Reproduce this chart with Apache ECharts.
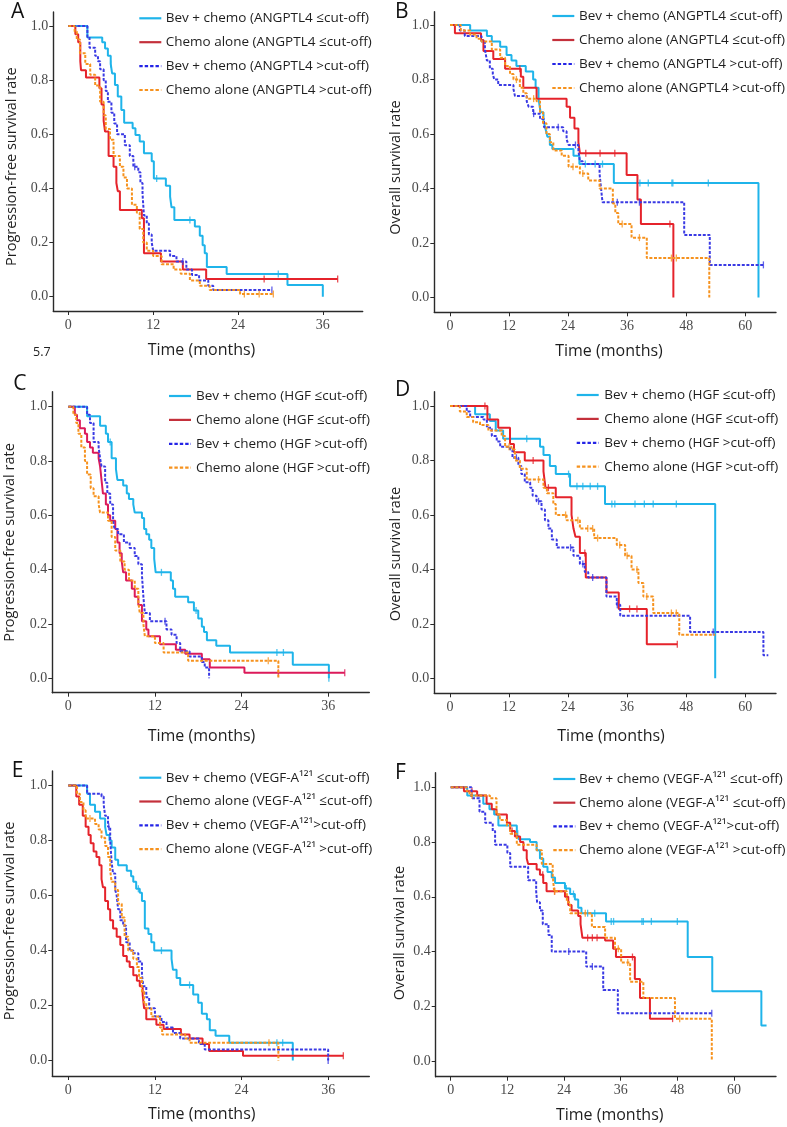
<!DOCTYPE html>
<html><head><meta charset="utf-8">
<script src="https://cdn.jsdelivr.net/npm/echarts@6/dist/echarts.min.js"></script>
<style>html,body{margin:0;padding:0;background:#fff}#c{width:787px;height:1127px}</style>
</head><body><div id="c"></div>
<script>
// ---------------- DATA (Kaplan–Meier steps: time in months, survival rate) ----------------
const ticksPFS = [0, 12, 24, 36];
const ticksOS = [0, 12, 24, 36, 48, 60];
const ticksY = [0, 0.2, 0.4, 0.6, 0.8, 1.0];

const namesANG = ['Bev + chemo (ANGPTL4 \u2264cut-off)', 'Chemo alone (ANGPTL4 \u2264cut-off)', 'Bev + chemo (ANGPTL4 >cut-off)', 'Chemo alone (ANGPTL4 >cut-off)'];
const namesHGF = ['Bev + chemo (HGF \u2264cut-off)', 'Chemo alone (HGF \u2264cut-off)', 'Bev + chemo (HGF >cut-off)', 'Chemo alone (HGF >cut-off)'];
const namesVEGF = ['Bev + chemo (VEGF-A\u00b9\u00b2\u00b9 \u2264cut-off)', 'Chemo alone (VEGF-A\u00b9\u00b2\u00b9 \u2264cut-off)', 'Bev + chemo (VEGF-A\u00b9\u00b2\u00b9>cut-off)', 'Chemo alone (VEGF-A\u00b9\u00b2\u00b9 >cut-off)'];

// Panel A: PFS, ANGPTL4
const A1_t = [0, 2.7, 4.8, 5.2, 5.6, 6.0, 6.2, 6.6, 7.0, 7.5, 7.9, 9.1, 9.5, 10.1, 10.7, 11.8, 12.1, 13.8, 14.4, 14.6, 15.0, 17.9, 18.6, 19.0, 19.3, 19.6, 22.4, 31.0, 36.0];
const A1_s = [1, 0.958, 0.94, 0.917, 0.89, 0.86, 0.825, 0.782, 0.74, 0.69, 0.643, 0.622, 0.597, 0.573, 0.53, 0.50, 0.437, 0.41, 0.37, 0.33, 0.283, 0.259, 0.225, 0.19, 0.16, 0.11, 0.084, 0.043, 0];
const A1_c = [6.0, 12.5, 17.2, 29.7];
const A2_t = [0, 1.0, 1.4, 1.7, 1.8, 2.5, 4.4, 4.7, 5.0, 5.2, 5.7, 6.4, 6.8, 7.0, 7.3, 10.4, 10.7, 13.1, 16.2, 19.5, 38.1];
const A2_s = [1, 0.97, 0.94, 0.87, 0.837, 0.81, 0.77, 0.71, 0.65, 0.61, 0.52, 0.48, 0.42, 0.39, 0.32, 0.29, 0.16, 0.13, 0.10, 0.065, 0.065];
const A2_c = [27.7, 38.1];
const A3_t = [0, 2.7, 3.0, 3.8, 4.2, 4.5, 5.0, 5.3, 5.6, 6.1, 6.5, 6.9, 8.0, 8.7, 9.2, 9.9, 10.2, 10.5, 10.7, 11.1, 11.4, 11.8, 12.0, 14.4, 15.3, 16.7, 17.5, 18.5, 19.8, 20.5, 28.8];
const A3_s = [1, 0.96, 0.92, 0.89, 0.87, 0.84, 0.80, 0.76, 0.72, 0.68, 0.64, 0.60, 0.56, 0.52, 0.48, 0.46, 0.42, 0.38, 0.30, 0.27, 0.23, 0.20, 0.17, 0.15, 0.13, 0.10, 0.08, 0.06, 0.04, 0.025, 0.025];
const A3_c = [9.4, 16.2, 28.8];
const A4_t = [0, 0.9, 1.2, 1.65, 2.4, 3.1, 3.8, 4.5, 5.0, 5.3, 5.9, 6.4, 7.3, 7.8, 8.3, 9.0, 9.7, 10.1, 10.6, 11.1, 12.0, 13.2, 14.9, 15.9, 17.2, 18.6, 20.0, 24.3, 29.0];
const A4_s = [1, 0.98, 0.95, 0.90, 0.86, 0.82, 0.78, 0.72, 0.67, 0.62, 0.58, 0.52, 0.48, 0.44, 0.40, 0.34, 0.31, 0.25, 0.20, 0.17, 0.15, 0.12, 0.10, 0.085, 0.06, 0.04, 0.025, 0.01, 0.01];
const A4_c = [24.9, 27.0, 29.0];

// Panel B: OS, ANGPTL4
const B1_t = [0, 4.1, 7.5, 8.5, 10.2, 11.5, 12.5, 13.5, 15.4, 16.9, 17.4, 18.0, 18.4, 19.0, 19.4, 19.8, 20.3, 20.8, 25.1, 26.3, 33.3, 62.7];
const B1_s = [1, 0.98, 0.96, 0.94, 0.92, 0.89, 0.87, 0.85, 0.83, 0.80, 0.77, 0.73, 0.68, 0.65, 0.62, 0.59, 0.56, 0.545, 0.52, 0.49, 0.42, 0];
const B1_c = [27.5, 29.5, 31.0, 38.6, 40.3, 45.1, 45.3, 52.5];
const B2_t = [0, 1.0, 6.3, 6.8, 8.8, 11.2, 14.4, 14.9, 17.6, 23.7, 24.4, 25.3, 26.1, 26.4, 35.9, 38.1, 38.8, 45.4];
const B2_s = [1, 0.97, 0.945, 0.905, 0.875, 0.84, 0.81, 0.77, 0.73, 0.70, 0.66, 0.62, 0.57, 0.53, 0.45, 0.36, 0.27, 0];
const B2_c = [14.2, 27.6, 30.5, 33.5, 44.7];
const B3_t = [0, 2.0, 3.0, 6.4, 7.1, 7.5, 8.1, 8.7, 9.0, 9.8, 12.9, 13.2, 15.6, 16.0, 16.9, 18.3, 19.1, 23.0, 23.7, 24.1, 26.1, 26.4, 27.0, 30.4, 30.7, 31.0, 47.6, 52.8, 63.7];
const B3_s = [1, 0.98, 0.96, 0.94, 0.91, 0.87, 0.84, 0.82, 0.80, 0.78, 0.765, 0.74, 0.72, 0.70, 0.675, 0.655, 0.625, 0.61, 0.58, 0.56, 0.54, 0.50, 0.49, 0.455, 0.40, 0.35, 0.23, 0.12, 0.12];
const B3_c = [17.0, 22.0, 25.5, 34.0, 38.5, 63.7];
const B4_t = [0, 2.2, 4.1, 5.4, 6.4, 8.5, 10.2, 11.2, 12.2, 12.9, 14.2, 14.9, 15.6, 17.6, 18.3, 18.9, 19.6, 20.3, 21.0, 22.7, 24.1, 26.4, 28.1, 30.4, 33.1, 33.6, 34.2, 36.9, 40.0, 52.7];
const B4_s = [1, 0.98, 0.965, 0.95, 0.94, 0.91, 0.88, 0.85, 0.82, 0.80, 0.77, 0.75, 0.73, 0.72, 0.68, 0.64, 0.60, 0.57, 0.54, 0.52, 0.48, 0.455, 0.43, 0.40, 0.345, 0.31, 0.27, 0.22, 0.145, 0];
const B4_c = [13.5, 17.0, 25.0, 27.0, 35.0, 38.5, 45.0, 46.0];

// Panel C: PFS, HGF
const C1_t = [0, 2.6, 4.4, 5.2, 5.5, 6.0, 6.6, 6.8, 7.6, 8.1, 8.4, 9.0, 9.2, 10.2, 10.5, 10.8, 11.2, 11.5, 11.9, 12.1, 14.2, 14.5, 14.8, 16.6, 17.4, 18.0, 18.5, 18.8, 19.2, 20.5, 22.4, 31.1, 36.1];
const C1_s = [1, 0.965, 0.93, 0.90, 0.87, 0.81, 0.77, 0.73, 0.71, 0.68, 0.66, 0.64, 0.61, 0.59, 0.55, 0.53, 0.51, 0.48, 0.44, 0.39, 0.36, 0.33, 0.30, 0.28, 0.25, 0.22, 0.19, 0.17, 0.14, 0.12, 0.095, 0.05, 0.0];
const C1_c = [5.8, 12.9, 17.7, 28.9, 29.8, 36.1];
const C2_t = [0, 0.9, 1.2, 1.6, 2.3, 2.6, 3.0, 3.4, 4.2, 4.4, 4.6, 4.8, 5.2, 5.5, 5.8, 6.5, 6.8, 7.1, 7.4, 7.6, 8.0, 8.8, 9.2, 9.7, 10.2, 10.8, 11.1, 12.7, 14.9, 16.2, 18.5, 19.6, 24.4, 38.3];
const C2_s = [1, 0.97, 0.95, 0.92, 0.90, 0.87, 0.85, 0.83, 0.81, 0.78, 0.73, 0.68, 0.64, 0.60, 0.58, 0.55, 0.50, 0.46, 0.43, 0.39, 0.36, 0.33, 0.30, 0.27, 0.21, 0.18, 0.155, 0.125, 0.105, 0.09, 0.07, 0.04, 0.02, 0.02];
const C2_c = [29.1, 38.3];
const C3_t = [0, 2.6, 3.0, 3.5, 4.2, 4.4, 4.6, 5.1, 5.4, 5.8, 6.2, 6.4, 6.9, 7.7, 8.5, 9.2, 9.7, 10.2, 10.4, 10.6, 11.3, 13.6, 14.3, 15.0, 15.5, 16.8, 18.5, 18.9, 19.5];
const C3_s = [1, 0.97, 0.94, 0.87, 0.85, 0.81, 0.78, 0.72, 0.68, 0.64, 0.58, 0.55, 0.53, 0.50, 0.48, 0.45, 0.42, 0.38, 0.30, 0.24, 0.21, 0.18, 0.16, 0.13, 0.10, 0.08, 0.06, 0.04, 0.0];
const C3_c = [13.4];
const C4_t = [0, 0.7, 1.1, 1.4, 1.8, 2.3, 2.6, 3.1, 3.5, 4.2, 4.4, 5.5, 6.0, 6.5, 7.2, 7.8, 8.4, 9.2, 9.7, 9.9, 10.4, 10.6, 12.0, 13.2, 16.6, 29.1];
const C4_s = [1, 0.97, 0.94, 0.90, 0.85, 0.80, 0.75, 0.70, 0.67, 0.64, 0.61, 0.58, 0.52, 0.47, 0.43, 0.40, 0.36, 0.33, 0.28, 0.24, 0.20, 0.155, 0.13, 0.095, 0.065, 0];
const C4_c = [27.7];

// Panel D: OS, HGF
const D1_t = [0, 5.1, 8.1, 9.3, 10.8, 18.3, 19.0, 20.3, 21.5, 24.4, 31.5, 53.9];
const D1_s = [1, 0.97, 0.945, 0.91, 0.88, 0.85, 0.82, 0.78, 0.75, 0.705, 0.64, 0];
const D1_c = [15.6, 24.1, 25.8, 27.0, 28.5, 30.0, 32.9, 33.5, 37.6, 39.5, 41.3, 46.0];
const D2_t = [0, 7.6, 9.8, 12.2, 13.0, 15.2, 19.0, 19.4, 21.5, 24.7, 25.1, 25.5, 26.4, 27.6, 31.8, 34.3, 40.0, 46.2];
const D2_s = [1, 0.95, 0.92, 0.86, 0.83, 0.80, 0.76, 0.70, 0.665, 0.60, 0.55, 0.52, 0.46, 0.37, 0.315, 0.255, 0.125, 0.125];
const D2_c = [7.1, 16.9, 20.0, 27.4, 36.5, 38.0, 46.2];
const D3_t = [0, 3.4, 4.1, 6.8, 7.5, 8.5, 9.5, 10.2, 12.2, 12.7, 13.9, 14.5, 15.2, 16.3, 16.8, 17.6, 18.6, 19.3, 20.0, 20.7, 21.7, 25.1, 26.4, 27.4, 28.1, 31.8, 33.9, 34.6, 48.8, 63.7, 64.7];
const D3_s = [1, 0.98, 0.96, 0.95, 0.92, 0.89, 0.87, 0.85, 0.84, 0.81, 0.78, 0.75, 0.72, 0.70, 0.67, 0.65, 0.62, 0.58, 0.55, 0.51, 0.48, 0.45, 0.42, 0.39, 0.37, 0.30, 0.27, 0.23, 0.17, 0.085, 0.085];
const D3_c = [13.5, 18.0, 24.5, 27.0, 29.0, 34.0, 53.5];
const D4_t = [0, 2.0, 3.4, 4.7, 6.1, 7.8, 10.5, 11.2, 12.5, 13.2, 14.2, 15.6, 19.0, 19.7, 21.0, 21.5, 23.7, 26.4, 29.3, 33.9, 35.6, 36.9, 38.3, 39.3, 41.3, 46.6, 53.9];
const D4_s = [1, 0.98, 0.96, 0.94, 0.93, 0.91, 0.89, 0.85, 0.84, 0.80, 0.77, 0.73, 0.70, 0.68, 0.64, 0.60, 0.58, 0.55, 0.515, 0.49, 0.45, 0.40, 0.35, 0.30, 0.24, 0.16, 0.16];
const D4_c = [12.0, 18.0, 23.5, 26.0, 28.0, 29.0, 30.0, 34.5, 36.0, 38.0, 40.0, 45.0, 46.0];

// Panel E: PFS, VEGF-A121
const E1_t = [0, 2.6, 3.0, 3.7, 4.4, 5.1, 5.3, 5.7, 6.0, 6.5, 6.9, 8.1, 8.7, 9.0, 9.4, 9.9, 10.2, 10.6, 11.1, 11.5, 11.9, 14.3, 14.5, 15.0, 15.5, 17.3, 18.0, 18.5, 19.2, 19.6, 20.4, 22.3, 31.1];
const E1_s = [1, 0.97, 0.93, 0.905, 0.88, 0.85, 0.82, 0.80, 0.775, 0.73, 0.71, 0.69, 0.67, 0.65, 0.625, 0.61, 0.58, 0.48, 0.46, 0.43, 0.40, 0.37, 0.33, 0.30, 0.275, 0.24, 0.21, 0.17, 0.15, 0.11, 0.09, 0.065, 0];
const E1_c = [9.7, 12.9, 16.8, 28.9, 29.7];
const E2_t = [0, 1.1, 1.5, 2.0, 2.4, 2.8, 3.1, 3.5, 3.9, 4.3, 4.6, 4.8, 5.1, 5.5, 5.8, 6.2, 6.7, 7.2, 7.6, 8.1, 8.5, 9.0, 9.5, 9.9, 10.3, 10.5, 10.8, 12.2, 13.2, 15.6, 16.8, 18.6, 19.5, 24.2, 38.1];
const E2_s = [1, 0.96, 0.93, 0.89, 0.85, 0.82, 0.79, 0.76, 0.74, 0.71, 0.66, 0.63, 0.58, 0.55, 0.51, 0.48, 0.45, 0.42, 0.38, 0.36, 0.34, 0.31, 0.29, 0.27, 0.24, 0.19, 0.15, 0.13, 0.115, 0.095, 0.08, 0.06, 0.035, 0.018, 0.018];
const E2_c = [38.1];
const E3_t = [0, 2.6, 4.6, 4.9, 5.1, 5.5, 5.8, 6.0, 6.2, 6.5, 6.7, 6.9, 7.2, 7.6, 8.0, 8.5, 9.0, 9.7, 10.2, 10.4, 10.8, 11.2, 12.0, 12.9, 13.6, 14.5, 15.5, 18.1, 18.9, 36.0];
const E3_s = [1, 0.97, 0.96, 0.93, 0.89, 0.85, 0.80, 0.72, 0.68, 0.62, 0.60, 0.55, 0.51, 0.49, 0.43, 0.40, 0.39, 0.36, 0.31, 0.27, 0.23, 0.19, 0.16, 0.14, 0.12, 0.10, 0.08, 0.06, 0.04, 0];
const E3_c = [5.6, 36.0];
const E4_t = [0, 1.2, 1.6, 2.1, 2.4, 3.7, 4.2, 4.6, 5.1, 5.5, 5.8, 6.0, 6.5, 6.9, 7.4, 7.8, 8.3, 9.0, 9.5, 9.8, 10.2, 10.5, 10.8, 11.5, 12.7, 13.0, 16.2, 16.8, 29.1];
const E4_s = [1, 0.97, 0.94, 0.91, 0.88, 0.86, 0.84, 0.81, 0.78, 0.74, 0.69, 0.65, 0.62, 0.57, 0.52, 0.45, 0.40, 0.37, 0.34, 0.30, 0.25, 0.21, 0.19, 0.16, 0.12, 0.095, 0.08, 0.065, 0];
const E4_c = [3.0, 27.8];

// Panel F: OS, VEGF-A121
const F1_t = [0, 3.5, 6.9, 8.2, 9.2, 10.1, 14.0, 14.4, 16.8, 18.2, 18.9, 19.6, 20.5, 21.4, 22.1, 24.2, 25.3, 26.3, 27.0, 27.7, 32.9, 50.2, 55.4, 65.8, 66.9];
const F1_s = [1, 0.97, 0.94, 0.92, 0.90, 0.86, 0.83, 0.81, 0.80, 0.77, 0.74, 0.71, 0.69, 0.67, 0.65, 0.63, 0.61, 0.59, 0.56, 0.54, 0.51, 0.38, 0.255, 0.13, 0.13];
const F1_c = [14.2, 24.5, 26.0, 29.0, 30.5, 34.0, 34.5, 40.5, 40.8, 42.5, 48.0];
const F2_t = [0, 2.8, 5.6, 7.6, 8.7, 9.7, 11.9, 12.6, 13.6, 14.7, 15.4, 16.1, 16.4, 18.2, 18.9, 19.6, 20.3, 24.2, 24.9, 25.6, 27.0, 27.5, 27.9, 32.7, 34.4, 35.0, 39.0, 40.1, 42.2, 47.1];
const F2_s = [1, 0.985, 0.97, 0.94, 0.92, 0.90, 0.87, 0.84, 0.82, 0.80, 0.77, 0.74, 0.72, 0.70, 0.68, 0.65, 0.62, 0.60, 0.57, 0.55, 0.53, 0.50, 0.45, 0.44, 0.41, 0.38, 0.30, 0.23, 0.155, 0.155];
const F2_c = [4.5, 13.0, 19.5, 22.0, 29.0, 30.0, 31.0, 38.5, 47.0];
const F3_t = [0, 4.4, 6.1, 7.3, 8.9, 9.4, 12.0, 12.6, 16.4, 18.1, 18.3, 18.9, 19.5, 20.7, 21.4, 28.7, 32.3, 35.4, 55.3];
const F3_s = [1, 0.96, 0.91, 0.87, 0.84, 0.79, 0.76, 0.71, 0.66, 0.62, 0.58, 0.55, 0.50, 0.46, 0.40, 0.345, 0.26, 0.175, 0.175];
const F3_c = [25.0, 30.0, 55.3];
const F4_t = [0, 3.4, 4.0, 8.3, 9.7, 10.4, 11.9, 12.6, 14.0, 18.2, 19.3, 21.6, 21.9, 24.6, 25.3, 29.9, 32.7, 34.8, 36.1, 38.0, 40.8, 47.5, 55.3];
const F4_s = [1, 0.985, 0.97, 0.96, 0.90, 0.88, 0.86, 0.83, 0.79, 0.77, 0.72, 0.68, 0.62, 0.58, 0.54, 0.49, 0.45, 0.41, 0.36, 0.29, 0.23, 0.155, 0];
const F4_c = [4.5, 22.0, 28.5, 35.5, 37.5, 48.5];

// ---------------- LAYOUT / STYLE ----------------
const PANELS = [
  {letter:'A', yTitle:'Progression-free survival rate', names:namesANG, ticks:ticksPFS, red:'#e5232b',
   series:[[A1_t,A1_s,A1_c],[A2_t,A2_s,A2_c],[A3_t,A3_s,A3_c],[A4_t,A4_s,A4_c]],
   box:{l:53.3,t:12,r:362.7,b:311}, xr:[-2.12,41.64], yr:[-0.053,1.052],
   leg:{ix:139.3, tx:165.7, y0:18.3, dy:23.9}, let:[11,12.5], yt:[12,166.7], xt:[201.5,350.5]},
  {letter:'B', yTitle:'Overall survival rate', names:namesANG, ticks:ticksOS, red:'#e5232b',
   series:[[B1_t,B1_s,B1_c],[B2_t,B2_s,B2_c],[B3_t,B3_s,B3_c],[B4_t,B4_s,B4_c]],
   box:{l:434.3,t:11.7,r:776,b:312.3}, xr:[-3.19,66.26], yr:[-0.054,1.049],
   leg:{ix:552.3, tx:579, y0:16, dy:24}, let:[395,12], yt:[396,167.5], xt:[609,351]},
  {letter:'C', yTitle:'Progression-free survival rate', names:namesHGF, ticks:ticksPFS, red:'#dc1a5a',
   series:[[C1_t,C1_s,C1_c],[C2_t,C2_s,C2_c],[C3_t,C3_s,C3_c],[C4_t,C4_s,C4_c]],
   box:{l:52.3,t:391.7,r:369.3,b:692.7}, xr:[-2.22,41.7], yr:[-0.053,1.055],
   leg:{ix:169, tx:196, y0:396, dy:23.9}, let:[13.3,384], yt:[10,542.5], xt:[201.5,736]},
  {letter:'D', yTitle:'Overall survival rate', names:namesHGF, ticks:ticksOS, red:'#e5232b',
   series:[[D1_t,D1_s,D1_c],[D2_t,D2_s,D2_c],[D3_t,D3_s,D3_c],[D4_t,D4_s,D4_c]],
   box:{l:434.3,t:391.7,r:776,b:693.3}, xr:[-3.19,66.26], yr:[-0.055,1.0525],
   leg:{ix:576.7, tx:604.3, y0:395, dy:23.9}, let:[395,390], yt:[396,554], xt:[611,736]},
  {letter:'E', yTitle:'Progression-free survival rate', names:namesVEGF, ticks:ticksPFS, red:'#e5232b',
   series:[[E1_t,E1_s,E1_c],[E2_t,E2_s,E2_c],[E3_t,E3_s,E3_c],[E4_t,E4_s,E4_c]],
   box:{l:52.3,t:771,r:369.3,b:1076}, xr:[-2.22,41.7], yr:[-0.056,1.053],
   leg:{ix:139.3, tx:165.7, y0:777.7, dy:23.8}, let:[11.7,771.5], yt:[10,921], xt:[201.7,1114.3]},
  {letter:'F', yTitle:'Overall survival rate', names:namesVEGF, ticks:ticksOS, red:'#e5232b',
   series:[[F1_t,F1_s,F1_c],[F2_t,F2_s,F2_c],[F3_t,F3_s,F3_c],[F4_t,F4_s,F4_c]],
   box:{l:435.7,t:772.7,r:776,b:1076.7}, xr:[-3.18,68.9], yr:[-0.057,1.053],
   leg:{ix:553.3, tx:579, y0:779, dy:23.7}, let:[395,773.5], yt:[400,933], xt:[609.7,1115]}
];

const CYAN = '#1fb4ea', BLUE = '#3a3ae4', ORANGE = '#f6921e';
const LEG_COLORS = ['#1fb4ea', '#c4303b', '#2424e6', '#f6921e'];
const SANS = "'Open Sans', 'DejaVu Sans', sans-serif";
const SERIF = "'Liberation Serif', 'DejaVu Serif', serif";
const AXIS_COLOR = '#2a2a2a';
const TEXT_COLOR = '#1e1e1e';

function stepAt(t, s, x) {
  let v = s[0];
  for (let i = 0; i < t.length; i++) if (t[i] <= x) v = s[i];
  return v;
}

const grids = [], xAxes = [], yAxes = [], series = [], graphics = [];

PANELS.forEach((P, gi) => {
  grids.push({left: P.box.l, top: P.box.t, width: P.box.r - P.box.l, height: P.box.b - P.box.t, containLabel: false});
  xAxes.push({
    type: 'value', gridIndex: gi, min: P.xr[0], max: P.xr[1],
    axisLine: {show: true, onZero: false, lineStyle: {color: AXIS_COLOR, width: 1.4}},
    axisTick: {show: true, length: 4, customValues: P.ticks, lineStyle: {color: AXIS_COLOR, width: 1}},
    axisLabel: {customValues: P.ticks, margin: 7, fontFamily: SERIF, fontSize: 14, color: '#4a4a4a'},
    splitLine: {show: false}
  });
  yAxes.push({
    type: 'value', gridIndex: gi, min: P.yr[0], max: P.yr[1],
    axisLine: {show: true, onZero: false, lineStyle: {color: AXIS_COLOR, width: 1.4}},
    axisTick: {show: true, length: 4, customValues: ticksY, lineStyle: {color: AXIS_COLOR, width: 1}},
    axisLabel: {customValues: ticksY, margin: 5, fontFamily: SERIF, fontSize: 14, color: '#4a4a4a',
      formatter: v => v.toFixed(1)},
    splitLine: {show: false}
  });
  const colors = [CYAN, P.red, BLUE, ORANGE];
  const dotted = [false, false, true, true];
  P.series.forEach((S, k) => {
    const [t, s, c] = S;
    series.push({
      type: 'line', name: P.names[k], xAxisIndex: gi, yAxisIndex: gi, step: 'end',
      data: t.map((x, i) => [x, s[i]]), showSymbol: false, symbol: 'none', silent: true,
      lineStyle: {color: colors[k], width: 2, type: dotted[k] ? [3, 1.6] : 'solid'},
      itemStyle: {color: colors[k]}, z: 2 + k
    });
    series.push({
      type: 'scatter', name: 'censored', xAxisIndex: gi, yAxisIndex: gi, silent: true,
      data: c.map(x => [x, stepAt(t, s, x)]), symbol: 'rect', symbolSize: [1.3, 7],
      itemStyle: {color: colors[k]}, z: 2 + k
    });
  });
  // legend (key line + label)
  P.names.forEach((n, k) => {
    const y = P.leg.y0 + k * P.leg.dy;
    graphics.push({type: 'line', silent: true,
      shape: {x1: P.leg.ix, y1: y, x2: P.leg.ix + 22, y2: y},
      style: {stroke: LEG_COLORS[k], lineWidth: 2.2, lineDash: dotted[k] ? [3.4, 2] : null}});
    graphics.push({type: 'text', x: P.leg.tx, y: y, silent: true,
      style: {text: n, fontFamily: SANS, fontSize: 13.5, fill: TEXT_COLOR, align: 'left', verticalAlign: 'middle'}});
  });
  graphics.push({type: 'text', x: P.let[0], y: P.let[1], silent: true,
    style: {text: P.letter, fontFamily: SANS, fontSize: 21, fill: '#111', align: 'left', verticalAlign: 'middle'}});
  graphics.push({type: 'text', x: P.yt[0], y: P.yt[1], rotation: Math.PI / 2, silent: true,
    style: {text: P.yTitle, fontFamily: SANS, fontSize: 14.5, fill: TEXT_COLOR, align: 'center', verticalAlign: 'middle'}});
  graphics.push({type: 'text', x: P.xt[0], y: P.xt[1], silent: true,
    style: {text: 'Time (months)', fontFamily: SANS, fontSize: 16, fill: TEXT_COLOR, align: 'center', verticalAlign: 'middle'}});
});

graphics.push({type: 'text', x: 33, y: 352, silent: true,
  style: {text: '5.7', fontFamily: SANS, fontSize: 12.5, fill: TEXT_COLOR, align: 'left', verticalAlign: 'middle'}});

const chart = echarts.init(document.getElementById('c'), null, {renderer: 'canvas'});
chart.setOption({
  animation: false,
  backgroundColor: '#ffffff',
  grid: grids, xAxis: xAxes, yAxis: yAxes, series: series,
  graphic: {elements: graphics}
});
</script>
</body></html>
